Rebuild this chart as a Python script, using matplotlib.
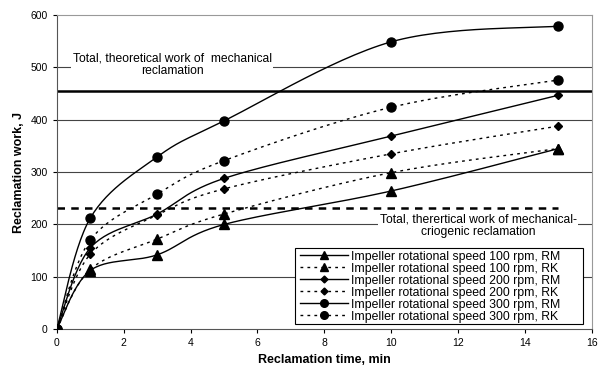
import matplotlib.pyplot as plt
import numpy as np
from matplotlib.patches import Rectangle

plt.rcParams['font.family'] = ['Liberation Sans', 'DejaVu Sans']

time_min = [0, 1, 3, 5, 10, 15]
rm100 = [0, 112, 142, 200, 264, 345]
rk100 = [0, 114, 172, 220, 299, 345]
rm200 = [0, 155, 220, 288, 369, 447]
rk200 = [0, 143, 218, 268, 335, 388]
rm300 = [0, 212, 329, 398, 549, 579]
rk300 = [0, 170, 258, 322, 424, 476]

labels = ['Impeller rotational speed 100 rpm, RM',
          'Impeller rotational speed 100 rpm, RK',
          'Impeller rotational speed 200 rpm, RM',
          'Impeller rotational speed 200 rpm, RK',
          'Impeller rotational speed 300 rpm, RM',
          'Impeller rotational speed 300 rpm, RK']
series = [rm100, rk100, rm200, rk200, rm300, rk300]
markers = ['^', '^', 'D', 'D', 'o', 'o']
msizes = [6.5, 6.5, 4.5, 4.5, 6.5, 6.5]

mech_total = 455
cryo_total = 232


def smooth(x, y, sx=33.4, sy=0.523, n=30):
    # excel-like smoothed line (catmull-rom bezier in screen-ish units)
    p = np.column_stack([np.array(x) * sx, np.array(y) * sy])
    out = []
    for i in range(len(p) - 1):
        p0 = p[i - 1] if i > 0 else p[i]
        p3 = p[i + 2] if i + 2 < len(p) else p[i + 1]
        c1 = p[i] + (p[i + 1] - p0) / 6
        c2 = p[i + 1] - (p3 - p[i]) / 6
        t = np.linspace(0, 1, n)[:, None]
        seg = ((1 - t) ** 3 * p[i] + 3 * (1 - t) ** 2 * t * c1
               + 3 * (1 - t) * t ** 2 * c2 + t ** 3 * p[i + 1])
        out.append(seg if i == 0 else seg[1:])
    out = np.vstack(out)
    return out[:, 0] / sx, out[:, 1] / sy


fig = plt.figure(figsize=(6.04, 3.69), dpi=100)
ax = fig.add_axes([0.094, 0.108, 0.886, 0.851])

for yv in [100, 200, 300, 400, 500]:
    ax.axhline(yv, color='#444444', lw=0.8, zorder=1)

ax.axhline(mech_total, color='black', lw=1.8, zorder=2)
ax.plot([0, 15], [cryo_total, cryo_total], color='black', lw=1.8,
        dashes=(3, 2.5), zorder=2)

for i, (ys, lab) in enumerate(zip(series, labels)):
    sx_, sy_ = smooth(time_min, ys)
    if i % 2 == 0:
        ls = dict(linestyle='-')
    else:
        ls = dict(dashes=(2, 3))
    ax.plot(sx_, sy_, color='black', lw=1, zorder=3, **ls)
    ax.plot(time_min, ys, linestyle='none', marker=markers[i],
            ms=msizes[i], color='black', zorder=4)
    ax.plot([], [], color='black', lw=1, marker=markers[i],
            ms=msizes[i] - 1, label=lab, **ls)

ax.text(3.45, 505, 'Total, theoretical work of  mechanical\nreclamation',
        ha='center', va='center', fontsize=8.75, linespacing=1.1,
        bbox=dict(facecolor='white', edgecolor='none', pad=1), zorder=5)
ax.text(12.6, 198, 'Total, therertical work of mechanical-\ncriogenic reclamation',
        ha='center', va='center', fontsize=8.75, linespacing=1.1,
        bbox=dict(facecolor='white', edgecolor='none', pad=1), zorder=5)

# legend box (excel leaves extra room on the right)
box = Rectangle((0.445, 0.016), 0.538, 0.242, transform=ax.transAxes,
                facecolor='white', edgecolor='black', lw=0.8, zorder=6)
ax.add_patch(box)
leg = ax.legend(loc='upper left', bbox_to_anchor=(0.449, 0.258), fontsize=8.8,
                frameon=False, handlelength=4.0, handletextpad=0.2,
                borderpad=0.2, labelspacing=0.0, borderaxespad=0)
leg.set_zorder(7)

ax.set_xlim(0, 16)
ax.set_ylim(0, 600)
ax.set_xticks(range(0, 17, 2))
ax.set_yticks(range(0, 601, 100))
ax.tick_params(labelsize=7.5, direction='out', length=3, width=0.8)
ax.set_xlabel('Reclamation time, min', fontsize=9, fontweight='bold')
ax.set_ylabel('Reclamation work, J', fontsize=9, fontweight='bold')
for s in ['top', 'right']:
    ax.spines[s].set_color('#999999')
for s in ['left', 'bottom']:
    ax.spines[s].set_color('#555555')

fig.savefig('out.png', dpi=100)
